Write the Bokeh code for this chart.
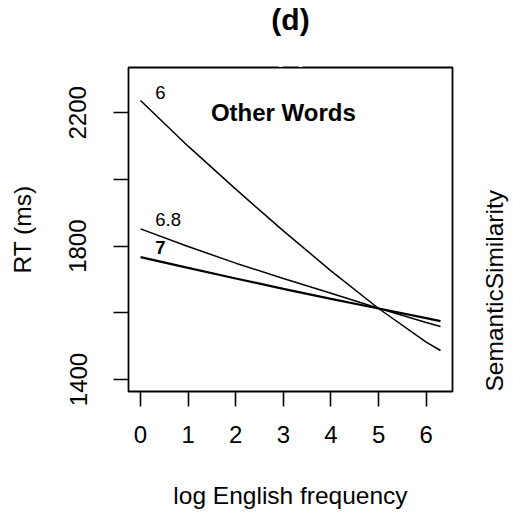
import math
from bokeh.plotting import figure
from bokeh.models import Range1d, FixedTicker, Label, LinearAxis, Title
from bokeh.embed import file_html
from bokeh.resources import INLINE

# ---- data ----
freq = [0, 1, 2, 3, 4, 5, 6, 6.3]
rt_sim6 = [2237, 2100, 1971, 1846, 1726, 1613, 1512, 1487]
rt_sim68 = [1852, 1799, 1749, 1703, 1659, 1614, 1571, 1559]
rt_sim7 = [1767, 1735, 1703, 1672, 1642, 1613, 1584, 1575]
curve_labels = ["6", "6.8", "7"]
x_ticks = [0, 1, 2, 3, 4, 5, 6]
y_ticks = [1400, 1600, 1800, 2000, 2200]
y_tick_labels = {1400: "1400", 1600: "", 1800: "1800", 2000: "", 2200: "2200"}

FONT = "Liberation Sans"

p = figure(frame_width=324, frame_height=324, output_backend="svg", toolbar_location=None,
           x_range=Range1d(-0.252, 6.552), y_range=Range1d(1364, 2336),
           min_border_left=128, min_border_right=61, min_border_top=67,
           min_border_bottom=125)
p.background_fill_color = "white"
p.border_fill_color = "white"
p.grid.visible = False
p.outline_line_color = "black"
p.outline_line_width = 1.8

# white (invisible) spacer closest to the frame, then the visible title above it
spacer = Title(text="(d)", text_font=FONT, text_font_size="26px", text_font_style="bold",
               text_color="white", standoff=0, align="center")
p.add_layout(spacer, "above")
main_title = Title(text="(d)", text_font=FONT, text_font_size="30px", text_font_style="bold",
                   text_color="black", standoff=0, align="center")
p.add_layout(main_title, "above")

for ax in (p.xaxis[0], p.yaxis[0]):
    ax.axis_line_color = None
    ax.major_tick_in = 0
    ax.major_tick_out = 15
    ax.major_tick_line_width = 1.6
    ax.major_tick_line_color = "black"
    ax.minor_tick_line_color = None
    ax.major_label_text_font = FONT
    ax.major_label_text_font_size = "24px"
    ax.major_label_text_color = "black"
    ax.axis_label_text_font = FONT
    ax.axis_label_text_font_size = "24.5px"
    ax.axis_label_text_font_style = "normal"
    ax.axis_label_text_color = "black"

p.xaxis[0].ticker = FixedTicker(ticks=x_ticks)
p.xaxis[0].major_label_standoff = 19
p.xaxis[0].axis_label = "log English frequency"
p.xaxis[0].axis_label_standoff = 36

p.yaxis[0].ticker = FixedTicker(ticks=y_ticks)
p.yaxis[0].major_label_overrides = y_tick_labels
p.yaxis[0].major_label_orientation = "vertical"
p.yaxis[0].major_label_standoff = 27
p.yaxis[0].axis_label = "RT (ms)"
p.yaxis[0].axis_label_standoff = 31

right = LinearAxis(axis_label="SemanticSimilarity", ticker=FixedTicker(ticks=[]),
                   axis_line_color=None, major_tick_line_color=None,
                   minor_tick_line_color=None, major_label_text_font_size="0px",
                   major_tick_in=0, major_tick_out=0, minor_tick_in=0, minor_tick_out=0,
                   major_label_standoff=0,
                   axis_label_text_font=FONT, axis_label_text_font_size="24.5px",
                   axis_label_text_font_style="normal", axis_label_text_color="black",
                   axis_label_standoff=42, axis_label_orientation=math.pi / 2,
                   axis_label_align="start")
p.add_layout(right, "right")

p.line(freq, rt_sim6, line_color="black", line_width=1.5)
p.line(freq, rt_sim68, line_color="black", line_width=1.5)
p.line(freq, rt_sim7, line_color="black", line_width=2.2)

# curve labels
lab_x = [0.31, 0.31, 0.31]
lab_y = [2261, 1879, 1797]
for t, lx, ly in zip(curve_labels, lab_x, lab_y):
    p.add_layout(Label(x=lx, y=ly, text=t, text_font=FONT, text_font_size="18.5px",
                       text_color="black", text_align="left", text_baseline="alphabetic",
                       text_font_style="bold" if t == "7" else "normal"))

p.add_layout(Label(x=3.0, y=2200, text="Other Words", text_font=FONT,
                   text_font_size="24px", text_font_style="bold", text_color="black",
                   text_align="center", text_baseline="alphabetic"))

open("out.html", "w").write(file_html(p, INLINE))
